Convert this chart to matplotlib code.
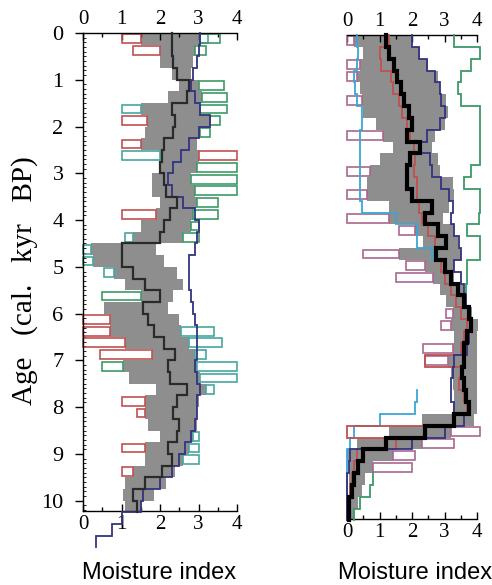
import numpy as np
import matplotlib
matplotlib.use("Agg")
import matplotlib.pyplot as plt
from matplotlib.ticker import MultipleLocator

n = np.nan

# ages (cal. kyr BP): records binned every 0.25 kyr
BIN = 0.25
AGE_EDGES = np.arange(0, 10.25 + 1e-9, BIN)          # 41 bins
NAVY_EDGES = np.arange(0, 11.0 + 1e-9, BIN)           # navy record runs below the axis
AGE_MAX = 10.22

# ---- left panel ----
L_LO = [1.5, 2.0, 2.0, 2.3, 2.5, 2.2, 1.5, 1.65, 1.6, 1.5, 2.0, 2.0, 1.8, 1.8, 2.0,
        1.9, 1.5, 1.3, 0.2, 0.25, 0.8, 1.1, 1.5, 0.55, 0.7, 0.7, 1.1, 1.8, 1.05, 1.2,
        1.9, 1.6, 1.6, 1.7, 2.0, 1.6, 1.6, 1.3, 1.1, 1.05, 1.1]
L_HI = [3.05, 2.9, 2.85, 2.8, 3.0, 3.1, 3.05, 3.3, 3.05, 2.95, 3.0, 2.95, 2.8, 2.9, 2.95,
        2.85, 2.8, 2.6, 1.9, 2.1, 2.45, 2.6, 2.35, 2.2, 2.5, 2.55, 2.75, 2.9, 2.95, 3.05,
        3.2, 3.0, 2.95, 2.95, 2.85, 2.75, 2.6, 2.4, 2.15, 1.85, 1.5]
L_MED = [2.3, 2.3, 2.35, 2.45, 2.75, 2.7, 2.3, 2.4, 2.35, 2.1, 2.05, 2.0, 2.1, 2.15, 2.45,
         2.25, 2.1, 2.0, 1.0, 1.0, 1.3, 1.6, 2.0, 1.55, 1.7, 1.85, 2.1, 2.4, 2.2, 2.25,
         2.7, 2.45, 2.35, 2.5, 2.45, 2.2, 2.3, 2.05, 1.6, 1.3, 1.4]
NAVY_L = [3.05, 3.0, 2.95, 2.85, 2.8, 2.9, 3.05, 3.3, 3.0, 2.75, 2.55, 2.35, 2.2, 2.3, 2.6,
          2.9, 3.0, 2.95, 2.9, 2.75, 2.75, 2.75, 2.8, 2.85, 2.9, 2.95, 2.95, 2.95, 2.9, 2.95,
          3.05, 2.95, 2.95, 2.9, 2.8, 2.65, 2.5, 2.3, 2.0, 1.55, 1.5, 1.0, 0.75, 0.35]
# single records, only the bins where they leave the grey envelope
RED_L = [1.0, 1.3, n, n, n, n, n, 1.0, n, 1.0, 4.0, n, n, n, n,
         1.0, n, n, n, n, n, n, n, n, 0.0, 0.0, 0.0, 0.45, n, n,
         n, 1.0, 1.4, n, n, 1.0, n, 1.0, n, n, n]
TEAL_L = [3.25, n, n, n, n, n, 1.0, n, n, n, 1.0, n, n, n, n,
          n, n, 1.1, 0.0, 0.0, 0.55, n, n, n, n, 3.4, 3.6, 3.2, 4.0, 4.0,
          3.4, n, n, n, 3.0, 3.0, 3.0, n, n, n, n]
GREEN_L = [3.55, 3.2, n, n, 3.65, 3.75, 3.75, 3.55, 3.3, n, n, 4.0, 4.0, 4.0, 3.5,
           3.5, 3.0, 3.0, n, n, n, n, 0.5, n, n, n, n, n, 0.5, n,
           n, n, n, n, n, n, n, n, n, n, n]

# ---- right panel ----
R_LO = [0.2, 0.5, 0.4, 0.3, 0.4, 0.45, 0.5, 0.9, 1.1, 1.4, 1.0, 0.7, 0.6, 0.6, 1.3,
        1.3, 2.1, 2.35, 1.6, 2.4, 2.65, 2.85, 3.05, 3.25, 3.2, 3.3, 3.25, 3.1, 3.2, 3.25,
        3.3, 3.25, 2.3, 1.3, 0.3, 0.0, 0.05, 0.05, 0.05, 0.05, 0.0]
R_HI = [2.0, 2.25, 2.5, 2.8, 2.85, 3.05, 3.1, 3.0, 2.7, 2.6, 2.8, 2.85, 3.25, 3.3, 3.15,
        2.95, 3.3, 3.4, 3.5, 3.3, 3.3, 3.6, 3.7, 3.85, 4.05, 4.0, 4.0, 4.0, 4.0, 4.0,
        4.0, 4.0, 3.9, 3.2, 2.3, 1.4, 0.8, 0.55, 0.45, 0.35, 0.2]
R_MED = [1.2, 1.3, 1.45, 1.55, 1.65, 1.75, 1.9, 2.0, 1.85, 2.25, 1.95, 1.85, 1.85, 2.0, 2.6,
         2.4, 2.8, 3.05, 2.75, 3.0, 3.2, 3.4, 3.6, 3.75, 3.8, 3.7, 3.6, 3.6, 3.55, 3.6,
         3.65, 3.75, 3.3, 2.4, 1.2, 0.5, 0.35, 0.2, 0.15, 0.05, 0.05]
NAVY_R = [2.0, 2.2, 2.45, 2.7, 2.85, 2.9, 3.0, 2.85, 2.45, 2.25, 2.55, 2.6, 2.9, 3.15, 3.25,
          3.2, 3.3, 3.45, 3.5, 3.3, 3.5, 3.6, 3.65, 3.75, 3.8, 3.75, 3.7, 3.3, 3.25, 3.2,
          3.2, 3.3, 3.6, 3.0, 2.0, 0.1, 0.05, 0.0, 0.0, 0.0, 0.0]
RED_R = [1.3, 1.0, 1.05, 1.35, 1.4, 1.6, 1.7, 1.85, 1.95, 2.05, 2.1, 2.05, 2.15, 2.15, 2.2,
         2.3, 2.5, 2.7, 2.75, 2.9, 3.0, 3.2, 3.35, 3.5, 3.7, 3.6, 3.5, 2.4, 3.5, 3.45,
         3.6, 3.7, 3.3, 0.0, 1.5, 0.3, 0.2, 0.15, 0.1, 0.1, 0.05]
CYAN_R = [0.3, 0.35, 0.3, 0.2, 0.25, 0.3, 0.45, 0.45, 0.4, 0.4, 0.4, 0.4, 0.4, 0.4, 0.45,
          1.5, 2.15, 2.15, 2.6, n, n, n, n, n, n, n, n, n, n, n,
          2.15, 2.1, 1.0, 0.2, 0.1, 0.0, 0.0, 0.0, 0.0, 0.0, 0.0]
GREEN_R = [3.3, 4.1, 3.8, 3.5, 3.4, 3.5, 4.1, 4.1, 4.1, 4.1, 4.1, 3.8, 3.6, 4.1, 4.1,
           4.05, 3.7, 4.1, 4.1, 3.7, 3.7, 3.65, n, n, n, n, n, n, n, n,
           n, n, n, n, n, n, n, 0.8, 0.7, 0.4, 0.2]
PINK_R = [0.0, n, 0.0, 0.0, n, 0.0, n, n, 0.0, n, n, 0.0, n, 0.0, n,
          0.0, 1.6, n, 0.5, 1.8, 1.5, n, n, 3.05, 2.9, n, 2.35, 2.4, n, n,
          n, n, n, 4.1, 3.3, 2.1, 2.0, n, n, n, n]

GREY = "#8e8e8e"
C_RED = "#c0504f"
C_TEAL = "#45a6a0"
C_GREEN = "#3b9a67"
C_NAVY = "#33337f"
C_CYAN = "#3aa6d6"
C_PINK = "#a9678f"

plt.rcParams["font.family"] = ["Liberation Serif", "DejaVu Serif"]


def step_xy(values, edges):
    v = np.repeat(np.asarray(values, float), 2)
    a = np.column_stack([edges[:-1], edges[1:]]).ravel()
    return v, a


def envelope(ax, lo, hi):
    x_lo, a = step_xy(lo, AGE_EDGES)
    x_hi, _ = step_xy(hi, AGE_EDGES)
    ax.fill_betweenx(a, x_lo, x_hi, color=GREY, lw=0, zorder=1)


def boxes(ax, values, lo, hi, color, lw=1.2):
    # outlined boxes between a record value and the envelope edge
    vals = np.asarray(values, float)
    lo = np.asarray(lo, float)
    hi = np.asarray(hi, float)
    centers = AGE_EDGES[:-1] + BIN / 2
    ok = ~np.isnan(vals)
    left = np.where(vals < lo, vals, hi)
    right = np.where(vals < lo, lo, vals)
    ax.barh(centers[ok], (right - left)[ok], left=left[ok], height=BIN * 0.75,
            fill=False, edgecolor=color, lw=lw, zorder=2, clip_on=False)


def record(ax, values, color, lw, edges=AGE_EDGES, z=3):
    x, a = step_xy(values, edges)
    ax.plot(x, a, color=color, lw=lw, zorder=z, clip_on=False,
            solid_joinstyle="miter")


fig = plt.figure(figsize=(4.92, 5.85), dpi=100)
ax1 = fig.add_axes([83 / 492, 1 - 511 / 585, 154 / 492, 478 / 585])
ax2 = fig.add_axes([347 / 492, 1 - 519 / 585, 130 / 492, 484 / 585])

# left panel
envelope(ax1, L_LO, L_HI)
boxes(ax1, RED_L, L_LO, L_HI, C_RED)
boxes(ax1, TEAL_L, L_LO, L_HI, C_TEAL)
boxes(ax1, GREEN_L, L_LO, L_HI, C_GREEN)
record(ax1, NAVY_L, C_NAVY, 1.3, edges=NAVY_EDGES, z=4)
record(ax1, L_MED, "#2a2a2a", 1.6, z=5)

# right panel
envelope(ax2, R_LO, R_HI)
boxes(ax2, PINK_R, R_LO, R_HI, C_PINK)
record(ax2, CYAN_R, C_CYAN, 1.3)
record(ax2, GREEN_R, C_GREEN, 1.3)
record(ax2, RED_R, C_RED, 1.3)
record(ax2, NAVY_R, C_NAVY, 1.3, z=4)
record(ax2, R_MED, "black", 3.0, z=5)

for ax in (ax1, ax2):
    ax.set_xlim(0, 4)
    ax.set_ylim(AGE_MAX, 0)
    ax.xaxis.set_major_locator(MultipleLocator(1))
    ax.xaxis.set_minor_locator(MultipleLocator(0.5))
    ax.tick_params(axis="x", which="both", top=True, bottom=True,
                   labeltop=True, labelbottom=True, direction="in")
    ax.tick_params(axis="x", which="major", length=5, width=1, labelsize=15, pad=3)
    ax.tick_params(axis="x", which="minor", length=3, width=1)
    ax.spines["right"].set_visible(False)
    for s in ("top", "bottom", "left"):
        ax.spines[s].set_linewidth(1.0)

ax1.yaxis.set_major_locator(MultipleLocator(1))
ax1.yaxis.set_minor_locator(MultipleLocator(0.1))
ax1.tick_params(axis="y", which="major", direction="out", length=6, width=1,
                labelsize=16, pad=8)
ax1.tick_params(axis="y", which="minor", direction="in", length=2.5, width=0.6)

ax2.spines["left"].set_visible(False)
ax2.tick_params(axis="y", which="both", left=False, labelleft=False)

fig.text(25 / 492, 1 - 281 / 585, "Age   (cal.   kyr   BP)", rotation=90,
         ha="center", va="center", fontsize=21)
for xc in (159, 415):
    fig.text(xc / 492, 1 - 573 / 585, "Moisture index", ha="center", va="center",
             fontsize=17, family=["Liberation Sans", "DejaVu Sans"])

fig.savefig("out.png", dpi=100)
